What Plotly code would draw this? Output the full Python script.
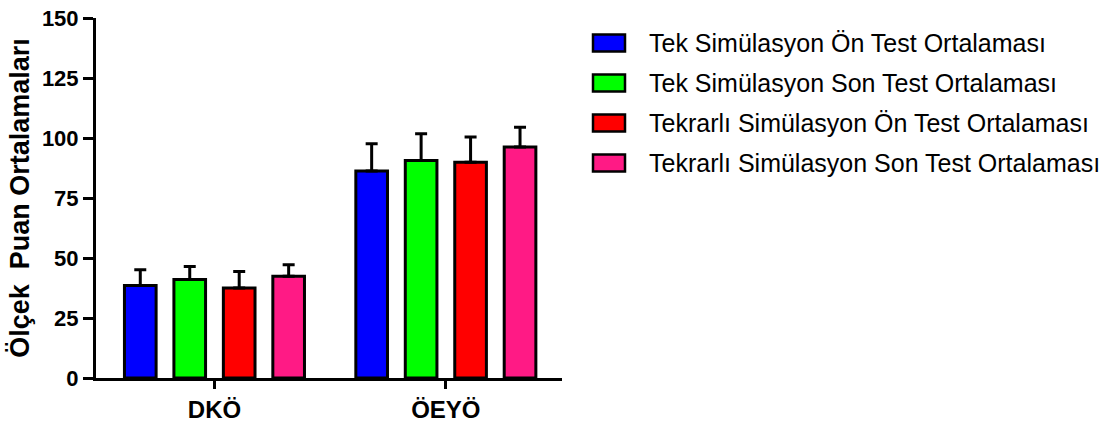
import plotly.graph_objects as go

# Groups on the x axis
categories = ["DKÖ", "ÖEYÖ"]

# Series names and bar colours
series_names = [
    "Tek Simülasyon Ön Test Ortalaması",
    "Tek Simülasyon Son Test Ortalaması",
    "Tekrarlı Simülasyon Ön Test Ortalaması",
    "Tekrarlı Simülasyon Son Test Ortalaması",
]
series_colors = ["#0000FF", "#00FF00", "#FF0000", "#FF1A85"]

# Means per series (DKÖ, ÖEYÖ)
tek_on = [38.5, 86.2]
tek_son = [41.0, 90.6]
tekrarli_on = [37.5, 89.9]
tekrarli_son = [42.4, 96.3]

# Upper error (standard deviation) per series
tek_on_err = [6.6, 11.4]
tek_son_err = [5.5, 11.2]
tekrarli_on_err = [6.9, 10.5]
tekrarli_son_err = [4.8, 8.2]

y_ticks = [0, 25, 50, 75, 100, 125, 150]

means = [tek_on, tek_son, tekrarli_on, tekrarli_son]
errors = [tek_on_err, tek_son_err, tekrarli_on_err, tekrarli_son_err]

FONT = "Liberation Sans, Arial, sans-serif"
W, H = 1110, 426
M_L, M_R, M_T, M_B = 96, 548, 18, 48

fig = go.Figure()
for name, color, vals, errs in zip(series_names, series_colors, means, errors):
    fig.add_trace(go.Bar(
        name=name,
        x=categories,
        y=vals,
        marker=dict(color=color, line=dict(color="black", width=3)),
        error_y=dict(
            type="data", array=errs, arrayminus=[0] * len(errs),
            symmetric=False, color="black", thickness=3, width=6,
        ),
        showlegend=False,
    ))

# Legend drawn as swatches + labels to the right of the plot area
plot_w = W - M_L - M_R
plot_h = H - M_T - M_B


def px_to_paper_x(px):
    return (px - M_L) / plot_w


def px_to_paper_y(py):
    return (H - M_B - py) / plot_h


legend_rows = [43, 83, 123, 163]
sw_x0, sw_x1, sw_h, text_x = 593, 625, 17, 647
for name, color, yc in zip(series_names, series_colors, legend_rows):
    fig.add_shape(
        type="rect", xref="paper", yref="paper",
        x0=px_to_paper_x(sw_x0), x1=px_to_paper_x(sw_x1),
        y0=px_to_paper_y(yc + sw_h / 2), y1=px_to_paper_y(yc - sw_h / 2),
        fillcolor=color, line=dict(color="black", width=2.5),
    )
    fig.add_annotation(
        xref="paper", yref="paper",
        x=px_to_paper_x(text_x), y=px_to_paper_y(yc),
        xanchor="left", yanchor="middle", showarrow=False,
        text=name, font=dict(family=FONT, size=25, color="black"),
    )

fig.update_layout(
    width=W, height=H,
    margin=dict(l=M_L, r=M_R, t=M_T, b=M_B, pad=0),
    paper_bgcolor="white", plot_bgcolor="white",
    barmode="group", bargap=0.145, bargroupgap=0.36,
    showlegend=False,
    font=dict(family=FONT, color="black"),
)
fig.update_xaxes(
    type="category", range=[-0.512, 1.502],
    showline=True, linecolor="black", linewidth=3,
    ticks="outside", ticklen=8, tickwidth=3, tickcolor="black",
    tickfont=dict(family=FONT, size=24, color="black", weight="bold"),
    showgrid=False, zeroline=False, automargin=False,
)
fig.update_yaxes(
    range=[0, 150], tickvals=y_ticks,
    showline=True, linecolor="black", linewidth=3,
    ticks="outside", ticklen=10, tickwidth=3, tickcolor="black",
    tickfont=dict(family=FONT, size=22, color="black", weight="bold"),
    showgrid=False, zeroline=False,
    title=dict(text="Ölçek  Puan Ortalamaları", standoff=5,
               font=dict(family=FONT, size=27, color="black", weight="bold")),
    automargin=False,
)

fig.write_html("out.html")
